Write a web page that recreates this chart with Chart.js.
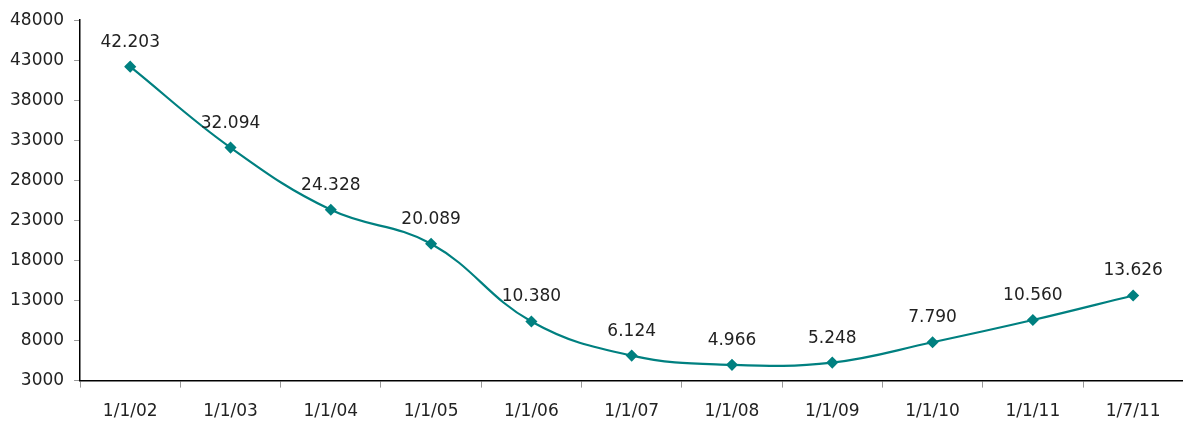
<!DOCTYPE html>
<html>
<head>
<meta charset="utf-8">
<script src="https://cdn.jsdelivr.net/npm/chart.js@4.4.1/dist/chart.umd.min.js"></script>
<style>
    html, body { margin: 0; padding: 0; background: #fff; overflow: hidden; }
    #wrap { width: 1190px; height: 421px; }
</style>
</head>
<body>
<div id="wrap"><canvas id="lineChart"></canvas></div>
<script>
const categories = ['1/1/02', '1/1/03', '1/1/04', '1/1/05', '1/1/06', '1/1/07', '1/1/08', '1/1/09', '1/1/10', '1/1/11', '1/7/11'];
const values = [42203, 32094, 24328, 20089, 10380, 6124, 4966, 5248, 7790, 10560, 13626];
const yTicks = [3000, 8000, 13000, 18000, 23000, 28000, 33000, 38000, 43000, 48000];

const FONT = 'DejaVu Sans';

// Value labels above each point, dot as thousands separator
const valueLabels = {
    id: 'valueLabels',
    afterDatasetsDraw(chart) {
        const ctx = chart.ctx;
        const meta = chart.getDatasetMeta(0);
        ctx.save();
        ctx.font = '17px "' + FONT + '"';
        ctx.fillStyle = '#222';
        ctx.textAlign = 'center';
        ctx.textBaseline = 'bottom';
        meta.data.forEach(function (pt, i) {
            const text = values[i].toLocaleString('de-DE');
            ctx.fillText(text, pt.x, pt.y - 16);
        });
        ctx.restore();
    }
};

new Chart(document.getElementById('lineChart'), {
    type: 'line',
    data: {
        labels: categories,
        datasets: [{
            data: values,
            borderColor: '#008080',
            borderWidth: 2.2,
            tension: 0.4,
            pointStyle: 'rectRot',
            pointRadius: 4.5,
            pointBackgroundColor: '#008080',
            pointBorderColor: '#008080',
            fill: false
        }]
    },
    options: {
        responsive: true,
        maintainAspectRatio: false,
        animation: false,
        layout: { padding: { top: 11, left: 0, right: 0, bottom: -15 } },
        plugins: {
            legend: { display: false },
            tooltip: { enabled: false }
        },
        scales: {
            x: {
                offset: true,
                grid: {
                    offset: true,
                    drawOnChartArea: false,
                    tickLength: 7,
                    color: '#999'
                },
                border: { display: true, color: '#000', width: 1.5 },
                ticks: {
                    color: '#222',
                    padding: 14,
                    font: { family: FONT, size: 17 }
                }
            },
            y: {
                min: 3000,
                max: 48000,
                afterBuildTicks: function (axis) {
                    axis.ticks = yTicks.map(function (v) { return { value: v }; });
                },
                grid: {
                    drawOnChartArea: false,
                    tickLength: 6,
                    color: '#999'
                },
                border: { display: true, color: '#000', width: 1.5 },
                ticks: {
                    color: '#222',
                    padding: 10,
                    font: { family: FONT, size: 17 },
                    callback: function (value) { return String(value); }
                }
            }
        }
    },
    plugins: [valueLabels]
});
</script>
</body>
</html>
